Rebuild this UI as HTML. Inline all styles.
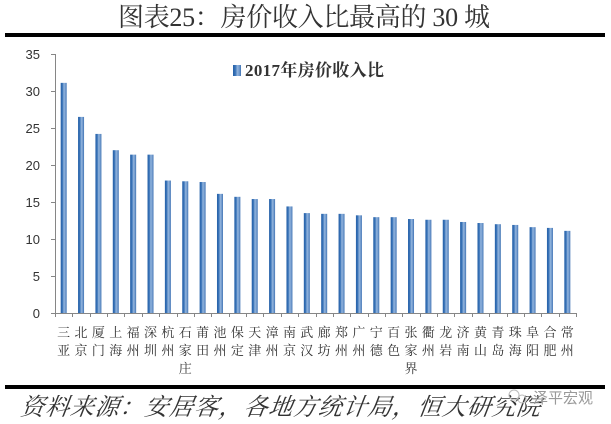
<!DOCTYPE html>
<html><head><meta charset="utf-8"><style>
html,body{margin:0;padding:0;background:#fff;}
svg{display:block;}
</style></head><body>
<svg width="611" height="424" viewBox="0 0 611 424" xmlns="http://www.w3.org/2000/svg">
<defs>
<linearGradient id="bg" x1="0" y1="0" x2="1" y2="0">
<stop offset="0" stop-color="#2560a8"/>
<stop offset="0.3" stop-color="#3a74b8"/>
<stop offset="0.55" stop-color="#92b4dd"/>
<stop offset="0.8" stop-color="#7099cc"/>
<stop offset="1" stop-color="#3d71b3"/>
</linearGradient>
</defs>
<rect width="611" height="424" fill="#fff"/>
<text x="118" y="26" font-family="'Liberation Serif','Noto Serif CJK SC',serif" font-size="26" fill="#333" textLength="372" lengthAdjust="spacing">图表25：房价收入比最高的 30 城</text>
<rect x="5" y="33" width="600" height="4" fill="#000"/>
<rect x="233" y="65" width="8" height="11" fill="url(#bg)"/>
<text x="245" y="76" font-family="'Liberation Serif','Noto Serif CJK SC',serif" font-size="17" font-weight="bold" fill="#333" textLength="139" lengthAdjust="spacing">2017年房价收入比</text>
<g stroke="#868686" stroke-width="1" fill="none">
<line x1="55.5" y1="54" x2="55.5" y2="313"/>
<line x1="55" y1="313.5" x2="576" y2="313.5"/>
<path d="M51 54.5H55M51 91.5H55M51 128.5H55M51 165.5H55M51 202.5H55M51 239.5H55M51 276.5H55M51 313.5H55"/>
<path d="M55.5 313V317M72.5 313V317M90.5 313V317M107.5 313V317M124.5 313V317M142.5 313V317M159.5 313V317M177.5 313V317M194.5 313V317M211.5 313V317M229.5 313V317M246.5 313V317M263.5 313V317M281.5 313V317M298.5 313V317M316.5 313V317M333.5 313V317M350.5 313V317M368.5 313V317M385.5 313V317M402.5 313V317M420.5 313V317M437.5 313V317M454.5 313V317M472.5 313V317M489.5 313V317M507.5 313V317M524.5 313V317M541.5 313V317M559.5 313V317M576.5 313V317"/>
</g>
<g font-family="'Liberation Sans',sans-serif" font-size="13" fill="#333" text-anchor="end">
<text x="40" y="59">35</text>
<text x="40" y="96">30</text>
<text x="40" y="133">25</text>
<text x="40" y="170">20</text>
<text x="40" y="207">15</text>
<text x="40" y="244">10</text>
<text x="40" y="281">5</text>
<text x="40" y="318">0</text>
</g>
<g fill="url(#bg)">
<rect x="60.68" y="82.86" width="6" height="230.14"/>
<rect x="78.05" y="116.9" width="6" height="196.1"/>
<rect x="95.42" y="133.92" width="6" height="179.08"/>
<rect x="112.78" y="150.2" width="6" height="162.8"/>
<rect x="130.15" y="154.64" width="6" height="158.36"/>
<rect x="147.52" y="154.64" width="6" height="158.36"/>
<rect x="164.88" y="180.54" width="6" height="132.46"/>
<rect x="182.25" y="181.28" width="6" height="131.72"/>
<rect x="199.62" y="182.02" width="6" height="130.98"/>
<rect x="216.98" y="193.86" width="6" height="119.14"/>
<rect x="234.35" y="196.82" width="6" height="116.18"/>
<rect x="251.72" y="199.04" width="6" height="113.96"/>
<rect x="269.08" y="199.04" width="6" height="113.96"/>
<rect x="286.45" y="206.44" width="6" height="106.56"/>
<rect x="303.82" y="213.1" width="6" height="99.9"/>
<rect x="321.18" y="213.84" width="6" height="99.16"/>
<rect x="338.55" y="213.84" width="6" height="99.16"/>
<rect x="355.92" y="215.32" width="6" height="97.68"/>
<rect x="373.28" y="217.17" width="6" height="95.83"/>
<rect x="390.65" y="217.17" width="6" height="95.83"/>
<rect x="408.02" y="219.02" width="6" height="93.98"/>
<rect x="425.38" y="219.76" width="6" height="93.24"/>
<rect x="442.75" y="219.76" width="6" height="93.24"/>
<rect x="460.12" y="221.98" width="6" height="91.02"/>
<rect x="477.48" y="223.02" width="6" height="89.98"/>
<rect x="494.85" y="224.2" width="6" height="88.8"/>
<rect x="512.22" y="224.94" width="6" height="88.06"/>
<rect x="529.58" y="227.16" width="6" height="85.84"/>
<rect x="546.95" y="227.9" width="6" height="85.1"/>
<rect x="564.32" y="230.86" width="6" height="82.14"/>
</g>
<g font-family="'Noto Serif CJK SC',serif" font-size="13" fill="#333" text-anchor="middle">
<text x="63.68" y="337">三</text><text x="63.68" y="355">亚</text>
<text x="81.05" y="337">北</text><text x="81.05" y="355">京</text>
<text x="98.42" y="337">厦</text><text x="98.42" y="355">门</text>
<text x="115.78" y="337">上</text><text x="115.78" y="355">海</text>
<text x="133.15" y="337">福</text><text x="133.15" y="355">州</text>
<text x="150.52" y="337">深</text><text x="150.52" y="355">圳</text>
<text x="167.88" y="337">杭</text><text x="167.88" y="355">州</text>
<text x="185.25" y="337">石</text><text x="185.25" y="355">家</text><text x="185.25" y="373">庄</text>
<text x="202.62" y="337">莆</text><text x="202.62" y="355">田</text>
<text x="219.98" y="337">池</text><text x="219.98" y="355">州</text>
<text x="237.35" y="337">保</text><text x="237.35" y="355">定</text>
<text x="254.72" y="337">天</text><text x="254.72" y="355">津</text>
<text x="272.08" y="337">漳</text><text x="272.08" y="355">州</text>
<text x="289.45" y="337">南</text><text x="289.45" y="355">京</text>
<text x="306.82" y="337">武</text><text x="306.82" y="355">汉</text>
<text x="324.18" y="337">廊</text><text x="324.18" y="355">坊</text>
<text x="341.55" y="337">郑</text><text x="341.55" y="355">州</text>
<text x="358.92" y="337">广</text><text x="358.92" y="355">州</text>
<text x="376.28" y="337">宁</text><text x="376.28" y="355">德</text>
<text x="393.65" y="337">百</text><text x="393.65" y="355">色</text>
<text x="411.02" y="337">张</text><text x="411.02" y="355">家</text><text x="411.02" y="373">界</text>
<text x="428.38" y="337">衢</text><text x="428.38" y="355">州</text>
<text x="445.75" y="337">龙</text><text x="445.75" y="355">岩</text>
<text x="463.12" y="337">济</text><text x="463.12" y="355">南</text>
<text x="480.48" y="337">黄</text><text x="480.48" y="355">山</text>
<text x="497.85" y="337">青</text><text x="497.85" y="355">岛</text>
<text x="515.22" y="337">珠</text><text x="515.22" y="355">海</text>
<text x="532.58" y="337">阜</text><text x="532.58" y="355">阳</text>
<text x="549.95" y="337">合</text><text x="549.95" y="355">肥</text>
<text x="567.32" y="337">常</text><text x="567.32" y="355">州</text>
</g>
<rect x="5" y="385" width="600" height="4" fill="#000"/>
<text x="20" y="415" font-family="'Noto Serif CJK SC',serif" font-size="24" font-style="italic" fill="#333" textLength="520" lengthAdjust="spacing" transform="skewX(-8) translate(58,0)">资料来源：安居客，各地方统计局，恒大研究院</text>
<g fill="none" stroke="#bbb" stroke-width="1">
<circle cx="514" cy="395" r="5"/>
<circle cx="522" cy="399" r="4"/>
</g>
<text x="533" y="403" font-family="'Noto Sans CJK SC',sans-serif" font-size="15" fill="#999">泽平宏观</text>
</svg>
</body></html>
